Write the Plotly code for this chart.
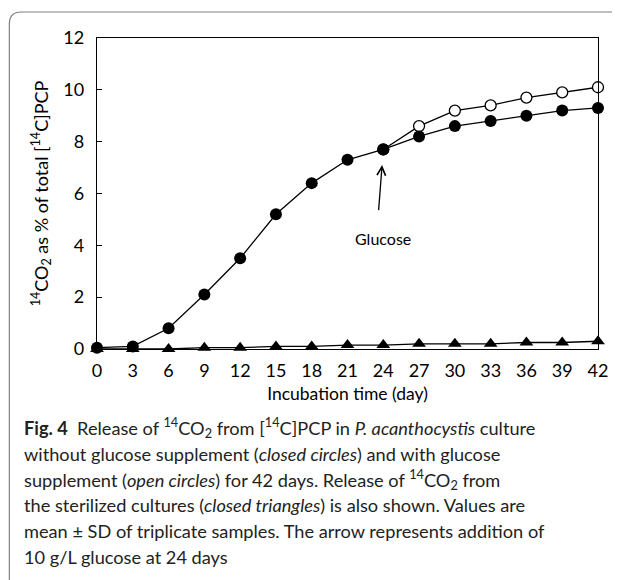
import plotly.graph_objects as go

days = [0, 3, 6, 9, 12, 15, 18, 21, 24, 27, 30, 33, 36, 39, 42]
no_glucose = [0.05, 0.1, 0.8, 2.1, 3.5, 5.2, 6.4, 7.3, 7.7, 8.2, 8.6, 8.8, 9.0, 9.2, 9.3]
glucose_days = [24, 27, 30, 33, 36, 39, 42]
with_glucose = [7.7, 8.6, 9.2, 9.4, 9.7, 9.9, 10.1]
sterilized = [0.0, 0.0, 0.0, 0.05, 0.05, 0.1, 0.1, 0.15, 0.15, 0.2, 0.2, 0.2, 0.25, 0.25, 0.3]
x_ticks = [0, 3, 6, 9, 12, 15, 18, 21, 24, 27, 30, 33, 36, 39, 42]
y_ticks = [0, 2, 4, 6, 8, 10, 12]

caption_lines = [
    "<b>Fig. 4</b>  Release of <sup>14</sup>CO<sub>2</sub> from [<sup>14</sup>C]PCP in <i>P. acanthocystis</i> culture",
    "without glucose supplement (<i>closed circles</i>) and with glucose",
    "supplement (<i>open circles</i>) for 42 days. Release of <sup>14</sup>CO<sub>2</sub> from",
    "the sterilized cultures (<i>closed triangles</i>) is also shown. Values are",
    "mean ± SD of triplicate samples. The arrow represents addition of",
    "10 g/L glucose at 24 days",
]

# page body has an 8px margin; work in screen coordinates and subtract it
OFF = 8
W, H = 620 - OFF, 580 - OFF
L, T = 97 - OFF, 38 - OFF
PR, PB = 600 - OFF, 349 - OFF
R, B = W - PR, H - PB
pw, ph = PR - L, PB - T

def px(x):
    return (x - OFF - L) / pw

def py(y):
    return (PB - (y - OFF)) / ph

FONT = "Lato, Open Sans, sans-serif"

fig = go.Figure()
fig.add_trace(go.Scatter(x=days, y=sterilized, mode="lines+markers",
                         line=dict(color="black", width=1.3),
                         marker=dict(symbol="triangle-up", size=12, color="black"),
                         cliponaxis=False, showlegend=False))
fig.add_trace(go.Scatter(x=glucose_days, y=with_glucose, mode="lines+markers",
                         line=dict(color="black", width=1.3),
                         marker=dict(symbol="circle", size=11, color="white",
                                     line=dict(color="black", width=1.3)),
                         cliponaxis=False, showlegend=False))
fig.add_trace(go.Scatter(x=days, y=no_glucose, mode="lines+markers",
                         line=dict(color="black", width=1.3),
                         marker=dict(symbol="circle", size=12, color="black"),
                         cliponaxis=False, showlegend=False))

# arrow and label
fig.add_annotation(x=23.9, y=7.1, ax=23.6, ay=5.3, xref="x", yref="y", axref="x", ayref="y",
                   showarrow=True, arrowhead=5, arrowsize=1.3, arrowwidth=1.3,
                   arrowcolor="black", text="")
fig.add_annotation(x=24, y=4.25, xref="x", yref="y", text="Glucose", showarrow=False,
                   font=dict(family=FONT, size=16, color="black"))

# caption
y0 = 428
for i, line in enumerate(caption_lines):
    fig.add_annotation(x=px(22), y=py(y0 + i * 25.8), xref="paper", yref="paper",
                       xanchor="left", yanchor="middle", text=line, showarrow=False,
                       font=dict(family=FONT, size=18.2, color="#222"))

# frame
x0f, ytf = px(9), py(12)
x1f, ybf = px(620), py(580)
rx, ry = 12 / pw, 12 / ph
fig.add_shape(type="path", xref="paper", yref="paper",
              path=f"M {x0f},{ybf} L {x0f},{ytf - ry} Q {x0f},{ytf} {x0f + rx},{ytf} L {x1f},{ytf}",
              line=dict(color="#808080", width=1.2))

fig.update_layout(
    width=W, height=H, margin=dict(l=L, r=R, t=T, b=B),
    paper_bgcolor="white", plot_bgcolor="white",
    font=dict(family=FONT, size=16, color="black"),
    xaxis=dict(range=[0, 42], tickvals=x_ticks, ticks="", showgrid=False, zeroline=False,
               showline=True, linecolor="black", linewidth=1.3, mirror=True,
               tickfont=dict(size=18), ticklabelstandoff=5,
               title=dict(text="Incubation time (day)", font=dict(size=17.5), standoff=7)),
    yaxis=dict(range=[0, 12], tickvals=y_ticks, ticks="inside", ticklen=5, tickcolor="black",
               showgrid=False, zeroline=False, showline=True, linecolor="black", linewidth=1.3,
               mirror=True, tickfont=dict(size=18), ticklabelstandoff=8,
               title=dict(text="<sup>14</sup>CO<sub>2</sub> as % of total [<sup>14</sup>C]PCP",
                          font=dict(size=18), standoff=10)),
)

fig.write_html("out.html", config={"displayModeBar": False})
